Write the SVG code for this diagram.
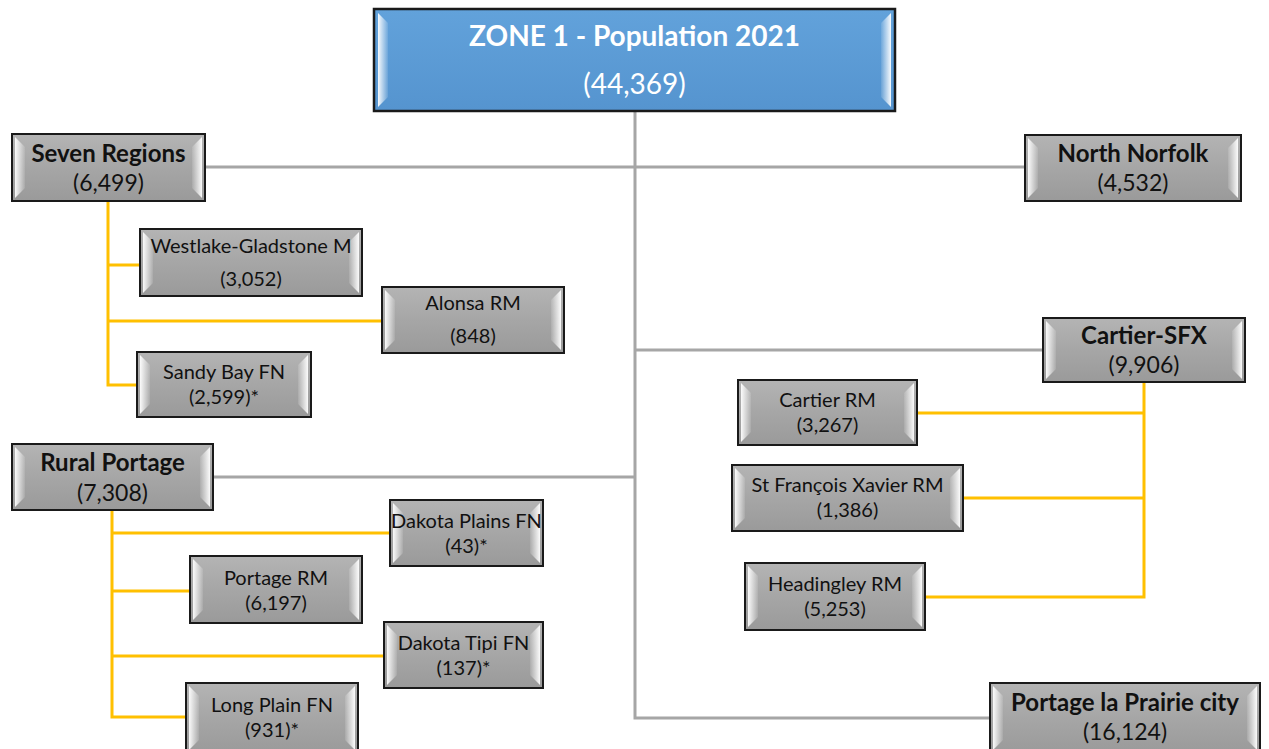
<svg xmlns="http://www.w3.org/2000/svg" width="1269" height="749" viewBox="0 0 1269 749">
<defs>
<linearGradient id="bl" x1="0" y1="0" x2="1" y2="0"><stop offset="0" stop-color="#ffffff" stop-opacity="0.95"/><stop offset="1" stop-color="#ffffff" stop-opacity="0.1"/></linearGradient>
<linearGradient id="br" x1="1" y1="0" x2="0" y2="0"><stop offset="0" stop-color="#ffffff" stop-opacity="0.95"/><stop offset="1" stop-color="#ffffff" stop-opacity="0.1"/></linearGradient>
<linearGradient id="gb" x1="0" y1="0" x2="0" y2="1"><stop offset="0" stop-color="#b4b4b4"/><stop offset="0.5" stop-color="#a6a6a6"/><stop offset="1" stop-color="#9a9a9a"/></linearGradient>
<linearGradient id="bb" x1="0" y1="0" x2="0" y2="1"><stop offset="0" stop-color="#62a2db"/><stop offset="1" stop-color="#5594cf"/></linearGradient>
<style>
.box{fill:url(#gb);stroke:#1a1a1a;stroke-width:2}
.blue{fill:url(#bb);stroke:#1a1a1a;stroke-width:2.5}
.t{font-family:Lato,"Liberation Sans",sans-serif;text-anchor:middle;fill:#111}
.b{font-weight:bold;font-size:24px}
.n{font-size:23px}
.s{font-size:20px}
.w{fill:#fff}
.g{stroke:#a6a6a6;stroke-width:3;fill:none}
.y{stroke:#ffc000;stroke-width:3;fill:none}
</style>
</defs>
<rect width="1269" height="749" fill="#fff"/>
<g id="connectors">
<path class="g" d="M635 111V718H990M205 167H1025M635 350H1043M213 477H635"/>
<path class="y" d="M108 201V385H137M108 265H140M108 321H382"/>
<path class="y" d="M1144 382V597H925M917 413H1144M963 498H1144"/>
<path class="y" d="M112 510V717H186M112 533H390M112 591H190M112 656H384"/>
</g>
<g id="zone1">
<rect class="blue" x="374" y="9" width="521" height="102"/>
<polygon points="378,13 388,23 388,97 378,107" fill="url(#bl)"/>
<polygon points="891,13 881,23 881,97 891,107" fill="url(#br)"/>
<text class="t w" x="634.5" y="46" font-size="28" font-weight="bold">ZONE 1 - Population 2021</text>
<text class="t w" x="634.5" y="94" font-size="28">(44,369)</text>
</g>
<g id="seven-regions">
<rect class="box" x="12" y="134" width="193" height="67"/>
<polygon points="15,137 25,147 25,188 15,198" fill="url(#bl)"/>
<polygon points="202,137 192,147 192,188 202,198" fill="url(#br)"/>
<text class="t b" x="108.5" y="162">Seven Regions</text>
<text class="t n" x="108.5" y="191">(6,499)</text>
</g>
<g id="north-norfolk">
<rect class="box" x="1025" y="135" width="216" height="66"/>
<polygon points="1028,138 1038,148 1038,188 1028,198" fill="url(#bl)"/>
<polygon points="1238,138 1228,148 1228,188 1238,198" fill="url(#br)"/>
<text class="t b" x="1133" y="162">North Norfolk</text>
<text class="t n" x="1133" y="191">(4,532)</text>
</g>
<g id="westlake">
<rect class="box" x="140" y="229" width="222" height="67"/>
<polygon points="143,232 153,242 153,283 143,293" fill="url(#bl)"/>
<polygon points="359,232 349,242 349,283 359,293" fill="url(#br)"/>
<text class="t s" x="251" y="253">Westlake-Gladstone M</text>
<text class="t s" x="251" y="286">(3,052)</text>
</g>
<g id="alonsa">
<rect class="box" x="382" y="287" width="182" height="66"/>
<polygon points="385,290 395,300 395,340 385,350" fill="url(#bl)"/>
<polygon points="561,290 551,300 551,340 561,350" fill="url(#br)"/>
<text class="t s" x="473" y="310">Alonsa RM</text>
<text class="t s" x="473" y="343">(848)</text>
</g>
<g id="sandy-bay">
<rect class="box" x="137" y="352" width="174" height="65"/>
<polygon points="140,355 150,365 150,404 140,414" fill="url(#bl)"/>
<polygon points="308,355 298,365 298,404 308,414" fill="url(#br)"/>
<text class="t s" x="224" y="379">Sandy Bay FN</text>
<text class="t s" x="224" y="404">(2,599)*</text>
</g>
<g id="cartier-sfx">
<rect class="box" x="1043" y="318" width="202" height="64"/>
<polygon points="1046,321 1056,331 1056,369 1046,379" fill="url(#bl)"/>
<polygon points="1242,321 1232,331 1232,369 1242,379" fill="url(#br)"/>
<text class="t b" x="1144" y="344">Cartier-SFX</text>
<text class="t n" x="1144" y="373">(9,906)</text>
</g>
<g id="cartier-rm">
<rect class="box" x="738" y="380" width="179" height="65"/>
<polygon points="741,383 751,393 751,432 741,442" fill="url(#bl)"/>
<polygon points="914,383 904,393 904,432 914,442" fill="url(#br)"/>
<text class="t s" x="827.5" y="407">Cartier RM</text>
<text class="t s" x="827.5" y="432">(3,267)</text>
</g>
<g id="sfx-rm">
<rect class="box" x="732" y="465" width="231" height="66"/>
<polygon points="735,468 745,478 745,518 735,528" fill="url(#bl)"/>
<polygon points="960,468 950,478 950,518 960,528" fill="url(#br)"/>
<text class="t s" x="847.5" y="492">St François Xavier RM</text>
<text class="t s" x="847.5" y="517">(1,386)</text>
</g>
<g id="headingley">
<rect class="box" x="745" y="563" width="180" height="67"/>
<polygon points="748,566 758,576 758,617 748,627" fill="url(#bl)"/>
<polygon points="922,566 912,576 912,617 922,627" fill="url(#br)"/>
<text class="t s" x="835" y="591">Headingley RM</text>
<text class="t s" x="835" y="616">(5,253)</text>
</g>
<g id="rural-portage">
<rect class="box" x="12" y="444" width="201" height="66"/>
<polygon points="15,447 25,457 25,497 15,507" fill="url(#bl)"/>
<polygon points="210,447 200,457 200,497 210,507" fill="url(#br)"/>
<text class="t b" x="112.5" y="471">Rural Portage</text>
<text class="t n" x="112.5" y="501">(7,308)</text>
</g>
<g id="dakota-plains">
<rect class="box" x="390" y="500" width="153" height="66"/>
<polygon points="393,503 403,513 403,553 393,563" fill="url(#bl)"/>
<polygon points="540,503 530,513 530,553 540,563" fill="url(#br)"/>
<text class="t s" x="466.5" y="528">Dakota Plains FN</text>
<text class="t s" x="466.5" y="553">(43)*</text>
</g>
<g id="portage-rm">
<rect class="box" x="190" y="556" width="172" height="67"/>
<polygon points="193,559 203,569 203,610 193,620" fill="url(#bl)"/>
<polygon points="359,559 349,569 349,610 359,620" fill="url(#br)"/>
<text class="t s" x="276" y="585">Portage RM</text>
<text class="t s" x="276" y="610">(6,197)</text>
</g>
<g id="dakota-tipi">
<rect class="box" x="384" y="622" width="159" height="66"/>
<polygon points="387,625 397,635 397,675 387,685" fill="url(#bl)"/>
<polygon points="540,625 530,635 530,675 540,685" fill="url(#br)"/>
<text class="t s" x="463.5" y="650">Dakota Tipi FN</text>
<text class="t s" x="463.5" y="675">(137)*</text>
</g>
<g id="long-plain">
<rect class="box" x="186" y="683" width="172" height="70"/>
<polygon points="189,686 199,696 199,740 189,750" fill="url(#bl)"/>
<polygon points="355,686 345,696 345,740 355,750" fill="url(#br)"/>
<text class="t s" x="272" y="712">Long Plain FN</text>
<text class="t s" x="272" y="737">(931)*</text>
</g>
<g id="portage-city">
<rect class="box" x="990" y="683" width="270" height="70"/>
<polygon points="993,686 1003,696 1003,740 993,750" fill="url(#bl)"/>
<polygon points="1257,686 1247,696 1247,740 1257,750" fill="url(#br)"/>
<text class="t b" x="1125" y="711">Portage la Prairie city</text>
<text class="t n" x="1125" y="740">(16,124)</text>
</g>
</svg>
